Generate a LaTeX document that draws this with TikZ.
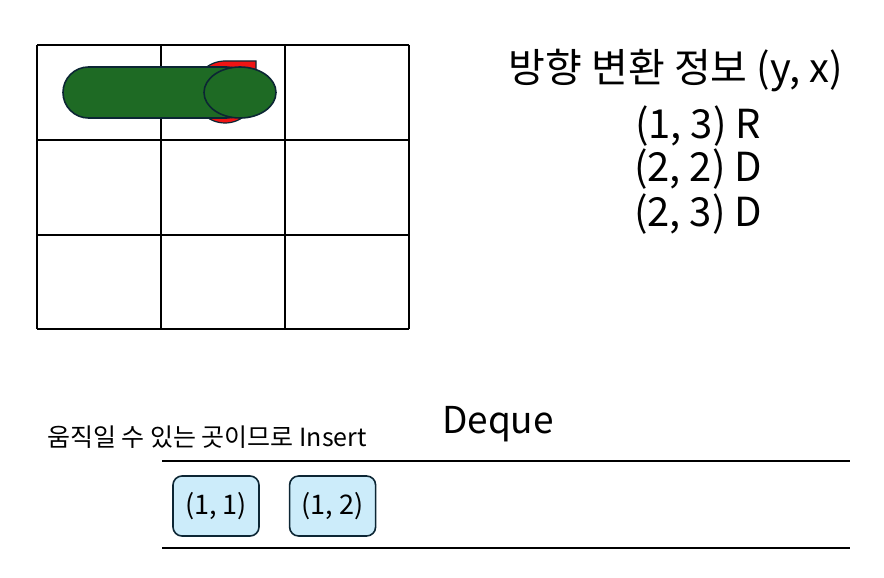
\documentclass[tikz,border=0pt]{standalone}
\usepackage{fontspec}
\setmainfont{Noto Sans CJK KR}
\usetikzlibrary{positioning, calc}
\definecolor{snakegreen}{RGB}{30,106,36}
\definecolor{darkline}{RGB}{12,38,52}
\definecolor{applered}{RGB}{240,20,20}
\definecolor{cellblue}{RGB}{204,236,250}
\tikzset{
  gridline/.style={draw=black, line width=1.3pt},
  snakepart/.style={draw=darkline, line width=1.6pt, fill=snakegreen},
  applepart/.style={draw=darkline, line width=1.2pt, fill=applered},
  dequeline/.style={draw=black, line width=1.3pt},
  dequebox/.style={draw=darkline, line width=1.6pt, fill=cellblue, rounded corners=9pt,
    minimum width=86pt, minimum height=60pt, inner sep=0pt, font=\fontsize{27}{32}\selectfont},
  infotext/.style={font=\fontsize{40}{46}\selectfont, inner sep=0pt},
  smalltext/.style={font=\fontsize{25}{30}\selectfont, inner sep=0pt}
}
\begin{document}
\begin{tikzpicture}[x=1pt, y=-1pt]
  \useasboundingbox (0,0) rectangle (884,578);
  % board
  \foreach \c in {37,161,285,409}{
    \draw[gridline] (\c,45) -- (\c,329);
  }
  \foreach \r in {45,140,235,329}{
    \draw[gridline] (37,\r) -- (409,\r);
  }
  % apple under the head
  \coordinate (apple) at (225,92);
  \draw[applepart] (256,92) -- (256,61) -- (225,61)
    arc[start angle=90, end angle=360, radius=31pt] -- cycle;
  % snake
  \draw[snakepart, rounded corners=25.5pt] (63,67) rectangle (252,118);
  \draw[snakepart] (240,92.5) ellipse [x radius=36pt, y radius=25.5pt];
  % turn info
  \node[infotext] (title) at (676,71) {방향 변환 정보 (y, x)};
  \node[infotext] (turn1) at (698,126) {(1, 3) R};
  \node[infotext] (turn2) at (698,169) {(2, 2) D};
  \node[infotext] (turn3) at (698,214) {(2, 3) D};
  % deque
  \node[smalltext] (insert) at (207,437) {움직일 수 있는 곳이므로 Insert};
  \node[infotext, font=\fontsize{37}{43}\selectfont] (deque) at (498,424) {Deque};
  \coordinate (topl) at (162,461);
  \coordinate (topr) at (850,461);
  \coordinate (botl) at (162,548);
  \coordinate (botr) at (850,548);
  \draw[dequeline] (topl) -- (topr);
  \draw[dequeline] (botl) -- (botr);
  \node[dequebox] (q1) at (216,506) {(1, 1)};
  \node[dequebox, right=29pt of q1] (q2) {(1, 2)};
\end{tikzpicture}
\end{document}
